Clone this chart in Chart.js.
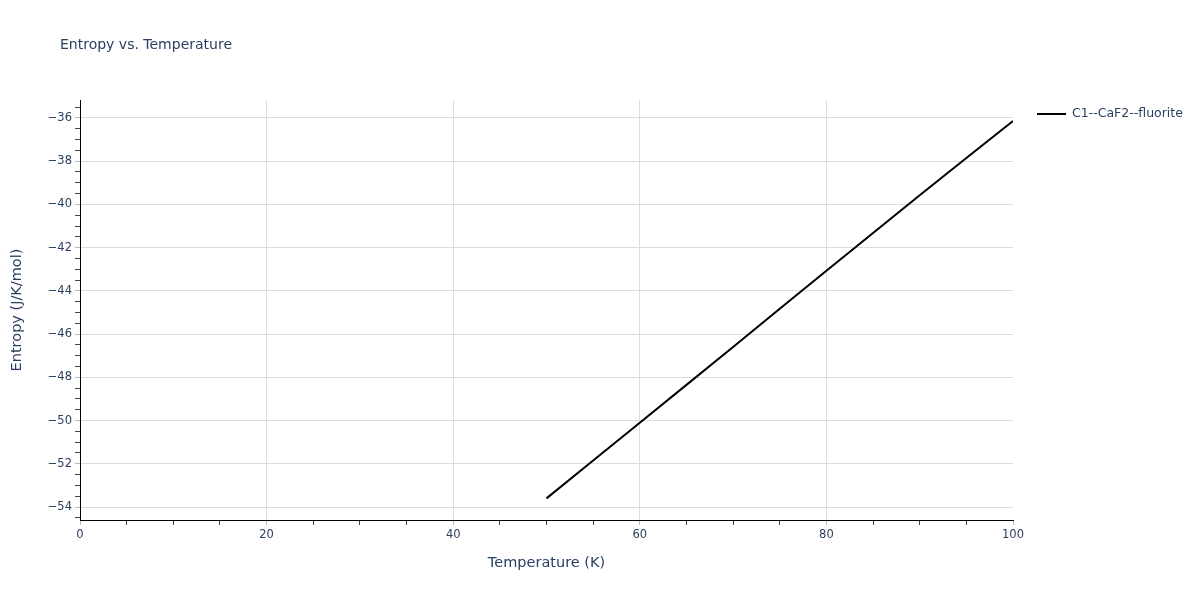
<!DOCTYPE html>
<html>
<head>
<meta charset="utf-8">
<script src="https://cdn.jsdelivr.net/npm/chart.js@4.4.1/dist/chart.umd.min.js"></script>
<style>
  body { margin: 0; background: #fff; }
  canvas { display: block; }
</style>
</head>
<body>
<canvas id="entropy" width="1200" height="600"></canvas>
<script>
const temperature = [50, 55, 60, 65, 70, 75, 80, 85, 90, 95, 100];
const entropy = [-53.6, -51.85, -50.1, -48.35, -46.6, -44.83, -43.07, -41.32, -39.58, -37.85, -36.14];
const seriesName = 'C1--CaF2--fluorite';
const xMajorTicks = [0, 20, 40, 60, 80, 100];
const yMajorTicks = [-54, -52, -50, -48, -46, -44, -42, -40, -38, -36];

const textColor = '#2a3f5f';
const fontFamily = '"DejaVu Sans", Verdana, sans-serif';

const isMajor = (list, v) => list.some(t => Math.abs(t - v) < 1e-6);
const fmt = v => (v < 0 ? '\u2212' + Math.abs(v) : String(v));

// title and legend in the plotly-like spots
const decorations = {
  id: 'decorations',
  afterDraw(chart) {
    const ctx = chart.ctx;
    ctx.save();
    ctx.fillStyle = textColor;
    ctx.textBaseline = 'middle';
    ctx.font = '14px ' + fontFamily;
    ctx.fillText('Entropy vs. Temperature', 60, 45);

    ctx.strokeStyle = '#000';
    ctx.lineWidth = 2;
    ctx.beginPath();
    ctx.moveTo(1037, 114);
    ctx.lineTo(1066, 114);
    ctx.stroke();
    ctx.font = '12.5px ' + fontFamily;
    ctx.fillText(seriesName, 1072, 114);
    ctx.restore();
  }
};

new Chart(document.getElementById('entropy'), {
  type: 'line',
  data: {
    datasets: [{
      label: seriesName,
      data: temperature.map((t, i) => ({ x: t, y: entropy[i] })),
      borderColor: '#000',
      borderWidth: 2,
      pointRadius: 0,
      tension: 0,
      fill: false
    }]
  },
  options: {
    responsive: false,
    animation: false,
    layout: { padding: { left: 0, right: 187, top: 100, bottom: 0 } },
    plugins: {
      legend: { display: false },
      title: { display: false },
      tooltip: { enabled: false }
    },
    scales: {
      x: {
        type: 'linear',
        min: 0,
        max: 100,
        afterFit(scale) { scale.height = 80; },
        afterBuildTicks(scale) {
          const ticks = [];
          for (let v = 0; v <= 100; v += 5) ticks.push({ value: v });
          scale.ticks = ticks;
        },
        ticks: {
          color: textColor,
          font: { family: fontFamily, size: 11.5 },
          padding: 3,
          maxRotation: 0,
          autoSkip: false,
          callback: v => (isMajor(xMajorTicks, v) ? fmt(v) : '')
        },
        grid: {
          color: ctx => {
            const v = ctx.tick ? ctx.tick.value : null;
            return v !== null && v > 0 && v < 100 && isMajor(xMajorTicks, v) ? '#dddddd' : 'rgba(0,0,0,0)';
          },
          tickColor: ctx => (ctx.tick && isMajor(xMajorTicks, ctx.tick.value) ? '#bbbbbb' : '#444'),
          tickLength: 5,
          lineWidth: 1
        },
        border: { display: true, color: '#000', width: 1 },
        title: {
          display: true,
          text: 'Temperature (K)',
          color: textColor,
          font: { family: fontFamily, size: 14.5 },
          padding: { top: 28, bottom: 28 }
        }
      },
      y: {
        type: 'linear',
        min: -54.6,
        max: -35.17,
        afterFit(scale) { scale.width = 80; },
        afterBuildTicks(scale) {
          const ticks = [];
          for (let v = -54.5; v <= -35.5 + 1e-6; v += 0.5) ticks.push({ value: v });
          scale.ticks = ticks;
        },
        ticks: {
          color: textColor,
          font: { family: fontFamily, size: 11.5 },
          padding: 3,
          autoSkip: false,
          callback: v => (isMajor(yMajorTicks, v) ? fmt(v) : '')
        },
        grid: {
          color: ctx => (ctx.tick && isMajor(yMajorTicks, ctx.tick.value) ? '#dddddd' : 'rgba(0,0,0,0)'),
          tickColor: ctx => (ctx.tick && isMajor(yMajorTicks, ctx.tick.value) ? '#bbbbbb' : '#444'),
          tickLength: 5,
          lineWidth: 1
        },
        border: { display: true, color: '#000', width: 1 },
        title: {
          display: true,
          text: 'Entropy (J/K/mol)',
          color: textColor,
          font: { family: fontFamily, size: 14.5 },
          padding: { top: 9, bottom: 9 }
        }
      }
    }
  },
  plugins: [decorations]
});
</script>
</body>
</html>
